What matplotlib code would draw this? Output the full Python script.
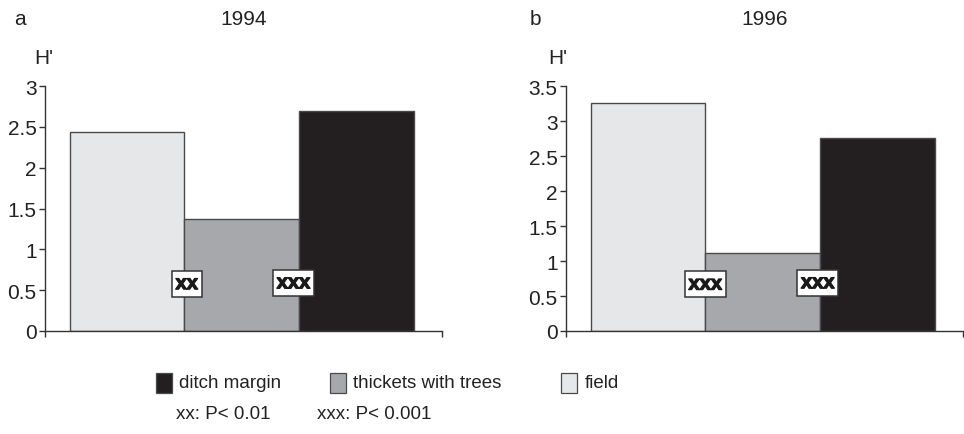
import matplotlib.pyplot as plt
import matplotlib.patheffects as pe
from matplotlib.patches import Rectangle

plt.rcParams['font.family'] = ['Liberation Sans', 'DejaVu Sans']

habitats = ['field', 'thickets with trees', 'ditch margin']
colors = ['#e6e7e9', '#a7a8ab', '#231f20']
h1994 = [2.44, 1.37, 2.70]
h1996 = [3.26, 1.12, 2.76]
sig1994 = ['xx', 'xxx']
sig1996 = ['xxx', 'xxx']

fig = plt.figure(figsize=(9.64, 4.35), dpi=100)

panels = [
    (0.0467, h1994, sig1994, '1994', 'a', 3.0, [0, 0.5, 1, 1.5, 2, 2.5, 3], ['0', '0.5', '1', '1.5', '2', '2.5', '3']),
    (0.587, h1996, sig1996, '1996', 'b', 3.5, [0, 0.5, 1, 1.5, 2, 2.5, 3, 3.5], ['0', '0.5', '1', '1.5', '2', '2.5', '3', '3.5']),
]
# label positions in data coords
sig_pos = {'1994': [(0.52, 0.58), (1.45, 0.59)],
           '1996': [(0.50, 0.67), (1.48, 0.69)]}
letter_dx = {'a': -0.026, 'b': -0.032}
h_dx = {'a': -0.001, 'b': -0.008}

for x0, vals, sigs, year, letter, ymax, ticks, ticklabels in panels:
    ax = fig.add_axes([x0, 0.2368, 0.412, 0.563])
    ax.bar(range(3), vals, width=1.0, color=colors, edgecolor='#4a4a4a', linewidth=1.0)
    ax.set_xlim(-0.715, 2.745)
    ax.set_ylim(0, ymax)
    ax.set_yticks(ticks)
    ax.set_yticklabels(ticklabels)
    ax.set_xticks([-0.715, 2.745])
    ax.set_xticklabels([])
    ax.spines['top'].set_visible(False)
    ax.spines['right'].set_visible(False)
    for s in ['left', 'bottom']:
        ax.spines[s].set_linewidth(1.0)
        ax.spines[s].set_color('#333333')
    ax.tick_params(axis='y', length=4, width=1, labelsize=15, pad=2, colors='#333333', labelcolor='#222222')
    ax.tick_params(axis='x', length=4, width=1, colors='#333333')
    for lab, (sx, sy) in zip(sigs, sig_pos[year]):
        t = ax.text(sx, sy, lab, ha='center', va='center', fontsize=14.5, fontweight='bold', color='#1a1a1a',
                    bbox=dict(boxstyle='square,pad=0.18', facecolor='white', edgecolor='#333333', linewidth=1.1))
        t.set_path_effects([pe.withStroke(linewidth=0.9, foreground='#1a1a1a')])
    fig.text(x0 + 0.206, 0.955, year, ha='center', va='center', fontsize=15, color='#222222')
    fig.text(x0 + letter_dx[letter], 0.955, letter, ha='center', va='center', fontsize=15, color='#222222')
    fig.text(x0 + h_dx[letter], 0.866, "H'", ha='center', va='center', fontsize=15, color='#222222')

# legend
legend_items = [(2, 156, 179), (1, 330, 353), (0, 561, 585)]
W, H = 964.0, 435.0
for idx, px, tx in legend_items:
    fig.patches.append(Rectangle((px / W, 1 - 394 / H), 16 / W, 20 / H, transform=fig.transFigure,
                                 facecolor=colors[idx], edgecolor='#4a4a4a', linewidth=0.9))
    fig.text(tx / W, 1 - 384 / H, habitats[idx], ha='left', va='center', fontsize=13.5, color='#222222')

fig.text(176 / W, 1 - 415 / H, 'xx: P< 0.01', ha='left', va='center', fontsize=13.5, color='#222222')
fig.text(317 / W, 1 - 415 / H, 'xxx: P< 0.001', ha='left', va='center', fontsize=13.5, color='#222222')

fig.savefig('out.png', dpi=100)
